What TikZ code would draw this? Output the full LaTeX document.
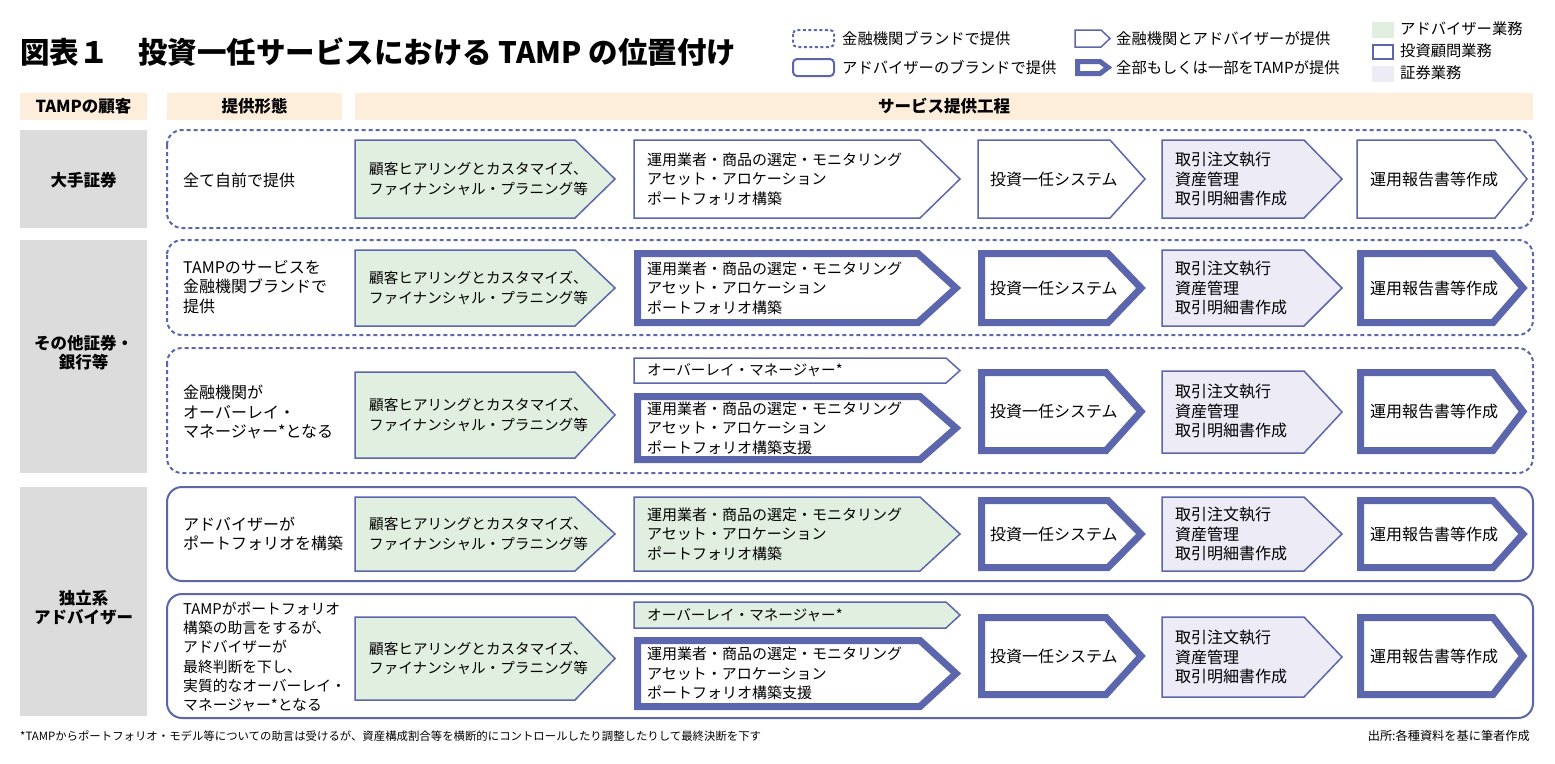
\documentclass[tikz,border=0pt]{standalone}
\usepackage{fontspec}
\setmainfont{Noto Sans CJK JP}
\definecolor{bord}{HTML}{5B66AC}
\definecolor{grn}{HTML}{E1EFE0}
\definecolor{lav}{HTML}{ECEBF6}
\definecolor{gry}{HTML}{DCDCDC}
\definecolor{peach}{HTML}{FDEEDB}
\newcommand{\chv}[6]{\draw[#1] (#2,#3) -- ({#4-#6},#3) -- (#4,{(#3+#5)/2}) -- ({#4-#6},#5) -- (#2,#5) -- cycle;}
\begin{document}
\begin{tikzpicture}[x=1pt,y=-1pt,
  thin/.style={draw=bord,line width=1.5pt,line join=miter},
  thk/.style={draw=bord,line width=7pt,line join=miter,fill=white},
  dbox/.style={draw=bord,line width=2pt,dash pattern=on 4pt off 3pt,rounded corners=15pt},
  sbox/.style={draw=bord,line width=2pt,rounded corners=15pt},
  atxt/.style={anchor=west,align=left,inner sep=0pt,font=\fontsize{16}{19.5}\selectfont},
  gtxt/.style={atxt,font=\fontsize{14.6}{19.5}\selectfont},
  mtxt/.style={atxt,font=\fontsize{15}{19.5}\selectfont},
  ltxt/.style={anchor=west,align=left,inner sep=0pt,font=\fontsize{16}{19.3}\selectfont},
  ctxt/.style={align=center,inner sep=0pt,font=\fontsize{16.5}{19}\selectfont\bfseries},
  legt/.style={anchor=west,inner sep=0pt,font=\fontsize{15.3}{18}\selectfont}]
\useasboundingbox (0,0) rectangle (1555,763);
\fill[white] (0,0) rectangle (1555,763);
% title
\node[anchor=west,inner sep=0pt,font=\fontsize{29.5}{32}\selectfont\bfseries] (title) at (20,52) {図表１　投資一任サービスにおける TAMP の位置付け};
% legend
\draw[draw=bord,line width=2pt,dash pattern=on 3pt off 2.5pt,rounded corners=4pt] (793,30) rectangle (834,47);
\node[legt] (lg1) at (842,38.5) {金融機関ブランドで提供};
\draw[draw=bord,line width=2pt,rounded corners=4pt] (793,59) rectangle (834,76);
\node[legt] (lg2) at (842,67.5) {アドバイザーのブランドで提供};
\chv{thin,fill=white}{1075}{30}{1110}{47}{9}
\node[legt] (lg3) at (1116,38.5) {金融機関とアドバイザーが提供};
\chv{draw=bord,line width=5pt,line join=miter,fill=white}{1077.5}{61.5}{1108}{73.5}{8}
\node[legt] (lg4) at (1116,67.5) {全部もしくは一部をTAMPが提供};
\fill[grn] (1372,22) rectangle (1394,38);
\node[legt] (lg5) at (1400,29) {アドバイザー業務};
\draw[bord,line width=2pt] (1373,45) rectangle (1393,59);
\node[legt] (lg6) at (1400,51) {投資顧問業務};
\fill[lav] (1372,66) rectangle (1394,82);
\node[legt] (lg7) at (1400,73) {証券業務};
% header
\fill[peach] (20,93) rectangle (147,120);
\fill[peach] (167,93) rectangle (342,120);
\fill[peach] (355,93) rectangle (1533,120);
\node[ctxt] (h1) at (83.5,106.5) {TAMPの顧客};
\node[ctxt] (h2) at (254.5,106.5) {提供形態};
\node[ctxt] (h3) at (944,106.5) {サービス提供工程};
% left gray boxes
\fill[gry] (20,130) rectangle (147,228);
\fill[gry] (20,240) rectangle (147,473);
\fill[gry] (20,487) rectangle (147,716);
\node[ctxt] (c1) at (83.5,180) {大手証券};
\node[ctxt] (c2) at (83.5,353) {その他証券・\\銀行等};
\node[ctxt] (c3) at (83.5,608) {独立系\\アドバイザー};
% row boxes
\draw[dbox] (167,130) rectangle (1533,228);
\draw[dbox] (167,240) rectangle (1533,335);
\draw[dbox] (167,348) rectangle (1533,473);
\draw[sbox] (167,487) rectangle (1533,581);
\draw[sbox] (167,594) rectangle (1533,718);
% left texts
\node[ltxt] (l1) at (183,180) {全て自前で提供};
\node[ltxt] (l2) at (183,287) {TAMPのサービスを\\金融機関ブランドで\\提供};
\node[ltxt] (l3) at (183,412) {金融機関が\\オーバーレイ・\\マネージャー*となる};
\node[ltxt] (l4) at (183,534) {アドバイザーが\\ポートフォリオを構築};
\node[ltxt,font=\fontsize{14.8}{19.3}\selectfont] (l5) at (183,657) {TAMPがポートフォリオ\\構築の助言をするが、\\アドバイザーが\\最終判断を下し、\\実質的なオーバーレイ・\\マネージャー*となる};
% ---------- row 1
\chv{thin,fill=grn}{355}{140}{615}{218}{40}
\node[gtxt] (r1a) at (369,179) {顧客ヒアリングとカスタマイズ、\\ファイナンシャル・プラニング等};
\chv{thin,fill=white}{634}{140}{960}{218}{40}
\node[mtxt] (r1b) at (647,179) {運用業者・商品の選定・モニタリング\\アセット・アロケーション\\ポートフォリオ構築};
\chv{thin,fill=white}{978}{140}{1145}{218}{35}
\node[atxt] (r1c) at (990,179) {投資一任システム};
\chv{thin,fill=lav}{1162}{140}{1342}{218}{38}
\node[atxt] (r1d) at (1175,179) {取引注文執行\\資産管理\\取引明細書作成};
\chv{thin,fill=white}{1357}{140}{1527}{218}{32}
\node[atxt] (r1e) at (1370,179) {運用報告書等作成};
% ---------- row 2
\chv{thin,fill=grn}{355}{250}{615}{326}{40}
\node[gtxt] (r2a) at (369,288) {顧客ヒアリングとカスタマイズ、\\ファイナンシャル・プラニング等};
\chv{thk}{637.5}{253.5}{956}{322.5}{38}
\node[mtxt] (r2b) at (647,288) {運用業者・商品の選定・モニタリング\\アセット・アロケーション\\ポートフォリオ構築};
\chv{thk}{981.5}{253.5}{1141}{322.5}{33}
\node[atxt] (r2c) at (990,288) {投資一任システム};
\chv{thin,fill=lav}{1162}{250}{1342}{326}{38}
\node[atxt] (r2d) at (1175,288) {取引注文執行\\資産管理\\取引明細書作成};
\chv{thk}{1360.5}{253.5}{1523}{322.5}{30}
\node[atxt] (r2e) at (1370,288) {運用報告書等作成};
% ---------- row 3
\chv{thin,fill=grn}{355}{372}{615}{458}{40}
\node[gtxt] (r3a) at (369,415) {顧客ヒアリングとカスタマイズ、\\ファイナンシャル・プラニング等};
\chv{thin,fill=white}{634}{358}{960}{383}{14}
\node[gtxt] (r3o) at (647,370.5) {オーバーレイ・マネージャー*};
\chv{thk}{637.5}{396.5}{956}{459.5}{36}
\node[mtxt] (r3b) at (647,428) {運用業者・商品の選定・モニタリング\\アセット・アロケーション\\ポートフォリオ構築支援};
\chv{thk}{981.5}{372.5}{1141}{450.5}{35}
\node[atxt] (r3c) at (990,411.5) {投資一任システム};
\chv{thin,fill=lav}{1162}{371}{1342}{453}{38}
\node[atxt] (r3d) at (1175,411) {取引注文執行\\資産管理\\取引明細書作成};
\chv{thk}{1360.5}{372.5}{1523}{450.5}{30}
\node[atxt] (r3e) at (1370,411.5) {運用報告書等作成};
% ---------- row 4
\chv{thin,fill=grn}{355}{497}{615}{571}{40}
\node[gtxt] (r4a) at (369,534) {顧客ヒアリングとカスタマイズ、\\ファイナンシャル・プラニング等};
\chv{thin,fill=grn}{634}{497}{960}{571}{40}
\node[mtxt] (r4b) at (647,534) {運用業者・商品の選定・モニタリング\\アセット・アロケーション\\ポートフォリオ構築};
\chv{thk}{981.5}{500.5}{1141}{567.5}{33}
\node[atxt] (r4c) at (990,534) {投資一任システム};
\chv{thin,fill=lav}{1162}{497}{1342}{571}{38}
\node[atxt] (r4d) at (1175,534) {取引注文執行\\資産管理\\取引明細書作成};
\chv{thk}{1360.5}{500.5}{1523}{567.5}{30}
\node[atxt] (r4e) at (1370,534) {運用報告書等作成};
% ---------- row 5
\chv{thin,fill=grn}{355}{617}{615}{700}{40}
\node[gtxt] (r5a) at (369,658.5) {顧客ヒアリングとカスタマイズ、\\ファイナンシャル・プラニング等};
\chv{thin,fill=grn}{634}{602}{960}{628}{14}
\node[gtxt] (r5o) at (647,615) {オーバーレイ・マネージャー*};
\chv{thk}{637.5}{640.5}{956}{706.5}{36}
\node[mtxt] (r5b) at (647,673.5) {運用業者・商品の選定・モニタリング\\アセット・アロケーション\\ポートフォリオ構築支援};
\chv{thk}{981.5}{617.5}{1141}{694.5}{35}
\node[atxt] (r5c) at (990,656) {投資一任システム};
\chv{thin,fill=lav}{1162}{617}{1342}{697}{38}
\node[atxt] (r5d) at (1175,657) {取引注文執行\\資産管理\\取引明細書作成};
\chv{thk}{1360.5}{617.5}{1523}{694.5}{30}
\node[atxt] (r5e) at (1370,656) {運用報告書等作成};
% footer
\node[anchor=west,inner sep=0pt,font=\fontsize{11.4}{13}\selectfont] (f1) at (20,736) {*TAMPからポートフォリオ・モデル等についての助言は受けるが、資産構成割合等を横断的にコントロールしたり調整したりして最終決断を下す};
\node[anchor=east,inner sep=0pt,font=\fontsize{12.2}{13}\selectfont] (f2) at (1530,736) {出所:各種資料を基に筆者作成};
\end{tikzpicture}
\end{document}
